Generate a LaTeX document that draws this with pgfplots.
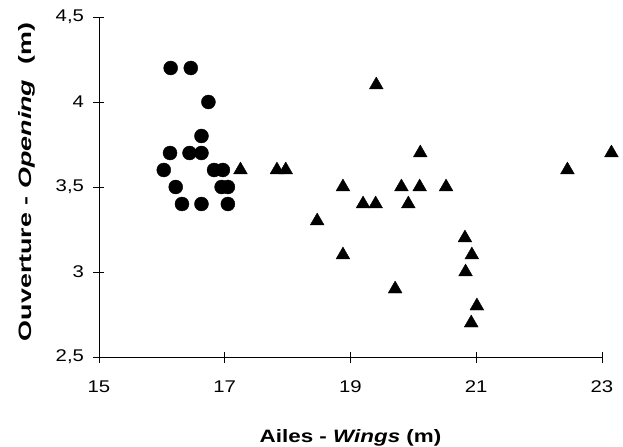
\documentclass[border=0pt]{standalone}
\usepackage{pgfplots}
\pgfplotsset{compat=1.18}
\usepackage{fontspec}
\setmainfont{Liberation Sans}
\newfontfamily\tickfont[FakeStretch=1.2]{Liberation Sans}
\newfontfamily\labfont[FakeStretch=1.25]{Liberation Sans}
\newfontfamily\ylabfont[FakeStretch=1.5]{Liberation Sans}
\begin{document}
\begin{tikzpicture}
\begin{axis}[
  name=ax,
  scale only axis,
  width=503bp, height=340bp,
  xmin=15, xmax=23, ymin=2.5, ymax=4.5,
  axis x line=bottom, axis y line=left,
  axis line style={-, line width=0.7pt},
  xtick={15,17,19,21,23},
  ytick={2.5,3,3.5,4,4.5},
  tick align=center,
  major tick length=11bp,
  tick style={black, line width=0.7pt},
  /pgf/number format/assume math mode=true,
  /pgf/number format/use comma,
  tick label style={font=\tickfont\fontsize{17}{19}\selectfont},
  yticklabel style={xshift=-6bp},
  xticklabel style={yshift=-15bp},
  xlabel={\textbf{Ailes - \textit{Wings} (m)}},
  ylabel={\textbf{Ouverture - \textit{Opening}\ \ (m)}},
  xlabel style={font=\labfont\fontsize{18}{21}\selectfont, at={(axis description cs:0.5,0)}, anchor=base, yshift=-85bp},
  ylabel style={font=\ylabfont\fontsize{18}{21}\selectfont, at={(axis description cs:0,0.5)}, anchor=south, inner sep=0pt, yshift=64bp, xshift=5bp},
  clip=false,
]
\addplot[only marks, mark=*, mark size=7bp, mark options={fill=black, draw=black}] coordinates {
(16.14,4.2) (16.46,4.2) (16.74,4.0) (16.63,3.8)
(16.13,3.7) (16.44,3.7) (16.63,3.7)
(16.03,3.6) (16.83,3.6) (16.97,3.6)
(16.22,3.5) (16.95,3.5) (17.05,3.5)
(16.32,3.4) (16.63,3.4) (17.05,3.4)
};
\addplot[only marks, mark=triangle*, mark size=8bp, mark options={fill=black, draw=black, line join=round}] coordinates {
(17.25,3.6) (17.83,3.6) (17.97,3.6)
(19.41,4.1) (20.11,3.7)
(18.88,3.5) (19.81,3.5) (20.10,3.5) (20.52,3.5)
(19.20,3.4) (19.40,3.4) (19.92,3.4)
(18.47,3.3) (18.88,3.1) (19.71,2.9)
(20.82,3.2) (20.93,3.1) (20.83,3.0) (21.01,2.8) (20.92,2.7)
(22.45,3.6) (23.15,3.7)
};
\end{axis}
\pgfresetboundingbox
\path ([xshift=-99bp,yshift=-90bp]ax.south west) rectangle ([xshift=21bp,yshift=17bp]ax.north east);
\end{tikzpicture}
\end{document}
